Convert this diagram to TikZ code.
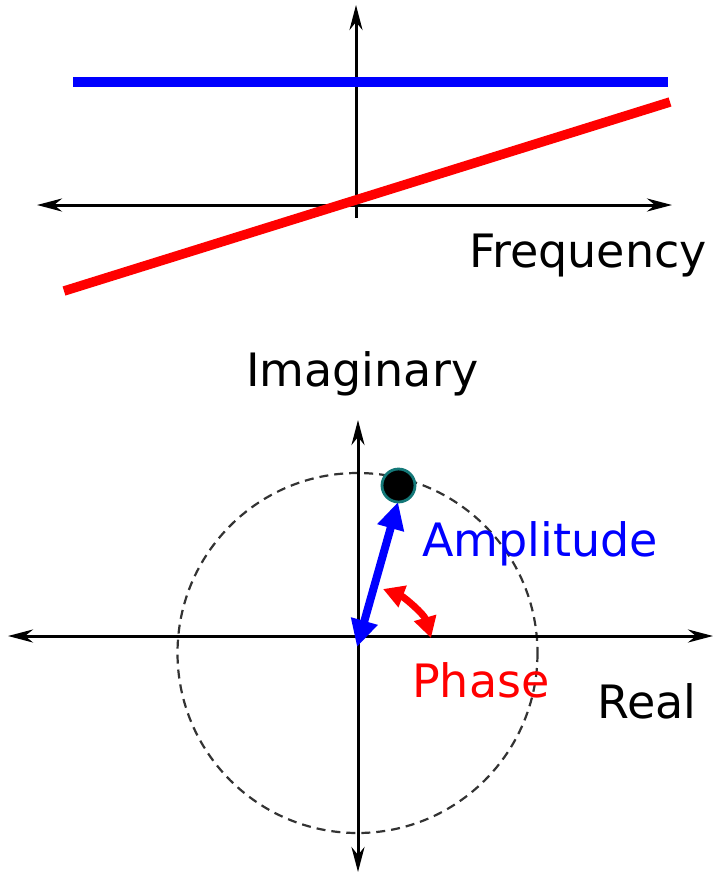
\documentclass[tikz,border=0pt]{standalone}
\usepackage{fontspec}
\setmainfont{DejaVu Sans}
\usetikzlibrary{arrows.meta}
\definecolor{dotedge}{RGB}{20,120,120}
\tikzset{
  axtip/.tip={Stealth[length=25pt,width=13pt,inset=8pt]},
  axis/.style={line width=3pt,axtip-axtip},
  axisup/.style={line width=3pt,-axtip},
  lbl/.style={anchor=base west,inner sep=0pt,font=\fontsize{46}{50}\selectfont},
  thick line/.style={line width=9.5pt},
}
\begin{document}
\begin{tikzpicture}[x=1pt,y=-1pt]
\useasboundingbox (0,0) rectangle (716,876);
% ---------- top plot ----------
\coordinate (tl) at (37,205);
\coordinate (tr) at (672,205);
\coordinate (tt) at (356,5);
\coordinate (tb) at (356,218);
\draw[axis] (tl) -- (tr);
\draw[axisup] (tb) -- (tt);
\coordinate (b1) at (73,82);
\coordinate (b2) at (668,82);
\draw[blue,thick line] (b1) -- (b2);
\coordinate (r1) at (64,291);
\coordinate (r2) at (670,102);
\draw[red,thick line] (r1) -- (r2);
\node[lbl] (freq) at (469,267) {Frequency};
% ---------- bottom plot ----------
\node[lbl] (imag) at (246,386) {Imaginary};
\coordinate (bl) at (8,636);
\coordinate (br) at (713,636);
\coordinate (bt) at (358,420);
\coordinate (bb) at (358,872);
\coordinate (cc) at (357.5,653);
\draw[black!80,line width=2.2pt,dash pattern=on 9pt off 6pt] (cc) circle[radius=180];
\draw[axis] (bl) -- (br);
\draw[axis] (bb) -- (bt);
\coordinate (tipA) at (398,502);
\coordinate (tipO) at (357,647);
\draw[blue,line width=8pt,{Triangle[length=27pt,width=26pt]}-{Triangle[length=27pt,width=26pt]}] (tipO) -- (tipA);
\node[circle,fill=black,draw=dotedge,line width=2.8pt,minimum size=33pt,inner sep=0pt] (dot) at (398.5,485.5) {};
\coordinate (p1) at (383,589);
\coordinate (p2) at (431,638);
\draw[red,line width=7pt,{Triangle[length=21pt,width=22pt]}-{Triangle[length=21pt,width=22pt]}] (p1) .. controls (404,597) and (424,614) .. (p2);
\node[lbl,text=blue] (amp) at (422,556) {Amplitude};
\node[lbl,text=red] (phase) at (412,697) {Phase};
\node[lbl] (real) at (597,718) {Real};
\end{tikzpicture}
\end{document}
